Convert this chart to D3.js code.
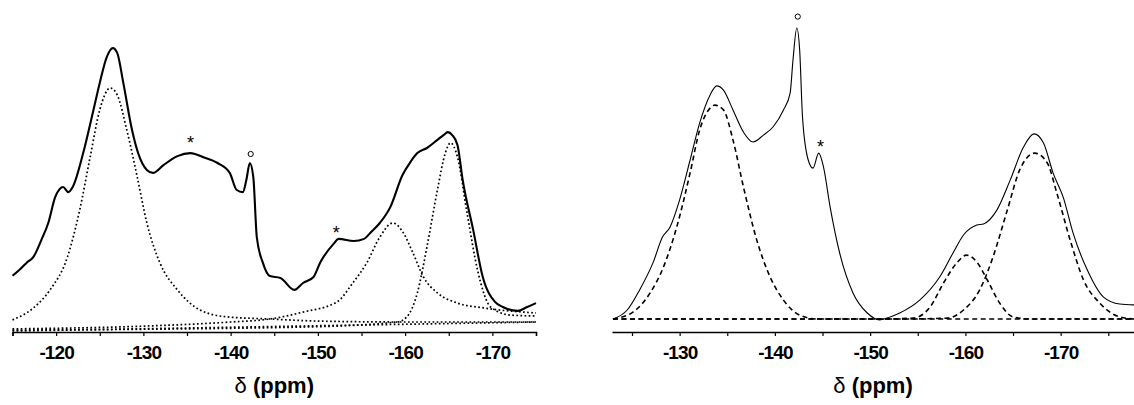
<!DOCTYPE html>
<html><head><meta charset="utf-8">
<script src="https://cdn.jsdelivr.net/npm/d3@7"></script>
<style>body{margin:0;background:#fff}svg{display:block}</style>
</head><body>
<svg id="c" width="1134" height="405"></svg>
<script>
// ---------- Left panel data (ppm, intensity) ----------
const leftSpectrumPpm = [-115.0,-115.9,-116.6,-117.4,-118.3,-119.1,-119.9,-120.4,-120.8,-121.4,-121.9,-123.1,-124.2,-125.0,-125.8,-126.5,-127.0,-127.7,-128.7,-129.4,-130.4,-131.1,-132.3,-133.9,-135.4,-136.8,-138.5,-139.9,-140.7,-141.4,-141.8,-142.2,-142.6,-143.0,-143.7,-144.5,-145.7,-147.3,-148.3,-149.5,-150.3,-151.7,-152.4,-154.1,-155.3,-156.0,-157.1,-158.3,-159.7,-160.6,-161.4,-162.5,-163.7,-164.4,-164.9,-165.4,-166.0,-166.6,-167.8,-168.9,-170.3,-171.2,-172.9,-174.0,-175.0];
const leftSpectrumInt = [18.4,20.7,22.7,24.7,30.3,36,44.7,47.3,48,46.3,48,59.3,72.7,82.7,91.3,94.3,92.7,82.7,67,59.3,53.7,52.7,55.3,58.3,59.3,58,56,52.7,47,46.3,50.3,56,51.3,31.3,22.7,18.3,17.7,13.7,16,18,23,28.7,30.7,30,30.7,32.7,36,41.3,52,56.3,59.3,61,63.7,65.3,66.3,65.3,62,50.3,33.7,18,9.7,8,6.7,8,9.3];

const leftFit1Ppm = [-115.0,-117.4,-119.3,-121.3,-122.7,-123.9,-125.0,-126.2,-127.0,-128.1,-129.3,-130.4,-131.9,-133.9,-136.5,-139.6,-144.5,-150,-160,-175];
const leftFit1Int = [3.7,7.7,13.7,24.7,40.3,58,73.7,81,78.7,67,51.3,36,22.7,13.7,7,4.7,4,3.3,3,3];

const leftFit2Ppm = [-115,-130.8,-140,-144.5,-148.3,-152.2,-154.0,-155.6,-157.1,-158.6,-159.8,-160.9,-162.1,-163.7,-166.0,-169.0,-175.0];
const leftFit2Int = [0.7,1.7,3,4,6.3,9.7,16,22.7,31.3,36,32.7,26,18,12.7,9.3,7.7,6];

const leftFit3Ppm = [-115,-148,-159.1,-160.2,-161.4,-162.5,-163.7,-164.6,-165.2,-166.0,-167.1,-168.3,-169.8,-172.1,-175.0];
const leftFit3Int = [0.3,1.3,3,4.7,12.7,28,47,59.3,62.7,58,39.3,20.3,8,5.3,5];

const leftBasePpm = [-115,-175];
const leftBaseInt = [0,3];

const leftMarkPpm = [-135.4,-142.3,-152.1];
const leftMarkInt = [64,59,34];
const leftMarkSym = ["*","o","*"];

// ---------- Right panel data ----------
const rightSpectrumPpm = [-123.0,-124.5,-125.8,-127.2,-128.2,-129.0,-130.0,-131.1,-132.1,-133.2,-133.9,-134.6,-135.6,-136.7,-137.7,-138.8,-139.8,-140.9,-141.6,-141.9,-142.3,-142.6,-142.9,-143.5,-144.0,-144.6,-145.1,-145.8,-146.8,-148.2,-149.7,-151.0,-152.1,-153.1,-155.2,-157.3,-158.7,-159.8,-161.2,-161.9,-163.3,-164.7,-166.1,-167.2,-168.2,-169.2,-170.3,-171.3,-172.8,-174.5,-176.2,-177.7];
const rightSpectrumInt = [0,3,9.7,18.7,27.3,30.7,39.7,53,65.3,74.7,77.7,76.3,69.7,62.3,59,61.3,64,69.7,75.3,86.3,97,89.7,67.3,53,50.3,55.3,50.7,37.3,22,8.7,2,-0.3,0.7,2,6.3,14,22,28,31.3,31.7,36.3,46.3,57.3,61.7,58.7,48.7,40.3,28.7,16.3,7.3,5,4.7];

const rightFit1Ppm = [-123.0,-125.1,-126.9,-128.3,-129.7,-131.1,-132.1,-133.2,-133.7,-134.6,-135.6,-136.7,-138.1,-139.5,-140.9,-142.6,-144.4,-177.7];
const rightFit1Int = [0,2.3,8.7,17.3,30.7,48.7,63,70.3,71.3,69.7,59.7,44,26.3,14,6.3,1.3,0,0];

const rightFit2Ppm = [-123.0,-151.0,-154.5,-156.3,-157.7,-159.1,-160.1,-161.2,-162.3,-163.6,-165.0,-166.8,-177.7];
const rightFit2Int = [0,0,0.3,4,12,18.7,21.3,19,13,5.3,0.7,0,0];

const rightFit3Ppm = [-123.0,-153.1,-158.1,-159.8,-161.5,-162.9,-164.4,-165.7,-167.3,-168.6,-169.6,-171.0,-172.4,-174.1,-176.2,-177.7];
const rightFit3Int = [0,0,0.3,3,9.7,20.7,36.3,49.7,55.3,52,42,26.3,13,5.3,0.7,0];

const rightMarkPpm = [-142.4,-144.8];
const rightMarkInt = [100.8,58.8];
const rightMarkSym = ["o","*"];

const leftTicks = [-120,-130,-140,-150,-160,-170];
const leftMinor = [-115,-125,-135,-145,-155,-165,-175];
const rightTicks = [-130,-140,-150,-160,-170];
const rightMinor = [-125,-135,-145,-155,-165,-175];
const axisTitle = ["δ", " (ppm)"];

// ---------- Drawing ----------
const svg = d3.select("#c");

function zip(a,b){return a.map((v,i)=>[v,b[i]]);}

function panel(cfg){
  const g = svg.append("g");
  const x = d3.scaleLinear().domain(cfg.xDomain).range(cfg.xRange);
  const y = d3.scaleLinear().domain([0,100]).range(cfg.yRange);
  const line = d3.line().x(d=>x(d[0])).y(d=>y(d[1])).curve(d3.curveMonotoneX);

  cfg.series.forEach(s=>{
    g.append("path").attr("d", line(zip(s.p,s.v)))
      .attr("fill","none").attr("stroke","#000")
      .attr("stroke-width", s.w)
      .attr("stroke-dasharray", s.dash || null)
      .attr("stroke-linecap", s.cap || "butt")
      .attr("stroke-linejoin","round");
  });

  // axis
  const ax = g.append("g").attr("transform",`translate(0,${cfg.axisY})`);
  ax.call(d3.axisBottom(x).tickValues(cfg.ticks.concat(cfg.minor)).tickSize(4).tickSizeOuter(cfg.outer)
      .tickFormat(d=> cfg.ticks.includes(d) ? d3.format("d")(d).replace("−","-") : ""));
  ax.select(".domain").attr("stroke-width",1.5);
  ax.selectAll(".tick line").attr("stroke-width",1.2);
  ax.selectAll(".tick text").attr("y",27).attr("dy",0)
    .attr("font-family","'Liberation Sans', Arial, sans-serif")
    .attr("font-weight","bold").attr("font-size",19).attr("letter-spacing",-0.9)
    .attr("fill","#000");

  const t = g.append("text").attr("x",(cfg.xRange[0]+cfg.xRange[1])/2).attr("y",393)
    .attr("text-anchor","middle").attr("font-family","'Liberation Sans', Arial, sans-serif")
    .attr("font-size",22).attr("fill","#000");
  t.append("tspan").text(axisTitle[0]);
  t.append("tspan").attr("font-weight","bold").text(axisTitle[1]);

  // markers
  cfg.marks.p.forEach((p,i)=>{
    const sym = cfg.marks.s[i];
    const cx = x(p), cy = y(cfg.marks.v[i]);
    if (sym === "o") {
      g.append("circle").attr("cx",cx).attr("cy",cy).attr("r",2.6)
        .attr("fill","none").attr("stroke","#000").attr("stroke-width",1);
    } else {
      g.append("text").attr("x",cx).attr("y", cy+10)
        .attr("text-anchor","middle")
        .attr("font-family","'Liberation Sans', Arial, sans-serif")
        .attr("font-size",18).attr("fill","#000").text(sym);
    }
  });
}

const dot = {w:1.7, dash:"1.7,2.4"};
panel({
  xDomain:[-115,-175], xRange:[12.5,536], yRange:[331,31], axisY:332, outer:4,
  ticks:leftTicks, minor:leftMinor,
  series:[
    {p:leftBasePpm,v:leftBaseInt,...dot},
    {p:leftFit1Ppm,v:leftFit1Int,...dot},
    {p:leftFit2Ppm,v:leftFit2Int,...dot},
    {p:leftFit3Ppm,v:leftFit3Int,...dot},
    {p:leftSpectrumPpm,v:leftSpectrumInt,w:2.1}
  ],
  marks:{p:leftMarkPpm,v:leftMarkInt,s:leftMarkSym}
});

panel({
  xDomain:[-122.9,-177.7], xRange:[612,1134], yRange:[319,19], axisY:332, outer:0,
  ticks:rightTicks, minor:rightMinor,
  series:[
    {p:rightFit1Ppm,v:rightFit1Int,w:1.6,dash:"5,3.5"},
    {p:rightFit2Ppm,v:rightFit2Int,w:1.6,dash:"5,3.5"},
    {p:rightFit3Ppm,v:rightFit3Int,w:1.6,dash:"5,3.5"},
    {p:rightSpectrumPpm,v:rightSpectrumInt,w:1.1}
  ],
  marks:{p:rightMarkPpm,v:rightMarkInt,s:rightMarkSym}
});
</script>
</body></html>
